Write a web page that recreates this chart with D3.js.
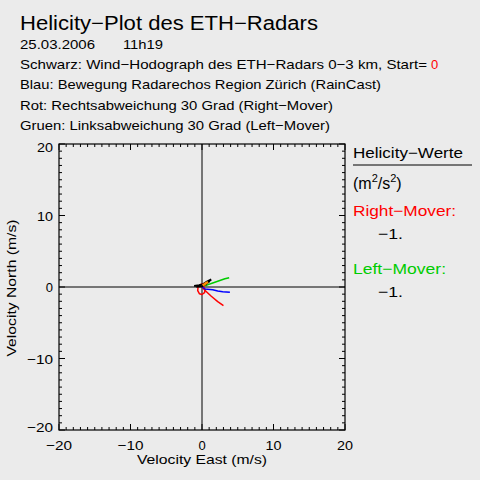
<!DOCTYPE html>
<html><head><meta charset="utf-8">
<script src="https://cdn.jsdelivr.net/npm/d3@7"></script>
<style>
html,body{margin:0;padding:0;background:#ebebeb;}
svg{display:block;font-family:"Liberation Sans","DejaVu Sans",sans-serif;}
</style></head>
<body><svg id="c" width="480" height="480"></svg>
<script>
// ---- data ----
const headerLines = [
  "Schwarz: Wind\u2212Hodograph des ETH\u2212Radars 0\u22123 km, Start=",
  "Blau: Bewegung Radarechos Region Z\u00fcrich (RainCast)",
  "Rot: Rechtsabweichung 30 Grad (Right\u2212Mover)",
  "Gruen: Linksabweichung 30 Grad (Left\u2212Mover)"
];
const xTicks = [-20, -10, 0, 10, 20];
const yTicks = [-20, -10, 0, 10, 20];
// hodograph (black), wind in m/s
const blackU = [-1.1, -0.4, 0.2, 0.7, 1.3];
const blackV = [0.15, 0.25, 0.4, 0.75, 1.05];
const black2U = [-0.8, 0.0, 0.6, 1.1];
const black2V = [0.05, 0.1, 0.45, 0.85];
// orange segment
const orangeU = [0.1, 0.5, 0.85];
const orangeV = [0.2, 0.5, 0.7];
// blue: radar echo motion
const blueU = [0.0, 0.4, 1.5, 2.2, 2.9, 3.9];
const blueV = [0.0, -0.28, -0.38, -0.56, -0.66, -0.75];
// red: right mover
const redLoopU = [0.3, -0.2, -0.55, -0.6, -0.35, 0.0, 0.35, 0.45, 0.2];
const redLoopV = [0.5, 0.35, 0.0, -0.5, -0.95, -1.05, -0.8, -0.35, 0.1];
const redU = [0.0, 0.4, 1.3, 2.2, 3.0];
const redV = [0.0, -0.45, -1.3, -2.05, -2.6];
// green: left mover
const greenU = [0.5, 0.75, 1.5, 2.5, 3.2, 3.8];
const greenV = [0.15, 0.3, 0.55, 0.9, 1.15, 1.3];
const helRight = "\u22121.";
const helLeft = "\u22121.";

// ---- drawing ----
const svg = d3.select("#c");
svg.append("rect").attr("width",480).attr("height",480).attr("fill","#ebebeb");
const x = d3.scaleLinear().domain([-20,20]).range([59,345]);
const y = d3.scaleLinear().domain([-20,20]).range([430,144]);

function txt(s, tx, ty, size, opts={}) {
  const t = svg.append("text").attr("x",tx).attr("y",ty).attr("font-size",size)
    .attr("fill",opts.fill||"#000").text(s);
  if (opts.len) t.attr("textLength",opts.len).attr("lengthAdjust","spacingAndGlyphs");
  if (opts.anchor) t.attr("text-anchor",opts.anchor);
  return t;
}
txt("Helicity\u2212Plot des ETH\u2212Radars", 20, 30, 20, {len:298});
txt("25.03.2006", 20, 49, 13, {len:75});
txt("11h19", 123, 49, 13, {len:40});
const hl = [[69,407],[89,361],[110,313],[130,310]];
headerLines.forEach((s,i)=>txt(s,20,hl[i][0],13,{len:hl[i][1]}));
txt("0", 431, 69, 13, {fill:"#ff0000"});

// ticks
const g = svg.append("g");
const minors = d3.range(-20,21,1);
minors.forEach(v=>{
  const L = (v%10===0)?6:3;
  g.append("line").attr("x1",x(v)).attr("x2",x(v)).attr("y1",y(-20)).attr("y2",y(-20)-L).attr("stroke","#000");
  g.append("line").attr("x1",x(v)).attr("x2",x(v)).attr("y1",y(20)).attr("y2",y(20)+L).attr("stroke","#000");
  g.append("line").attr("y1",y(v)).attr("y2",y(v)).attr("x1",x(-20)).attr("x2",x(-20)+L).attr("stroke","#000");
  g.append("line").attr("y1",y(v)).attr("y2",y(v)).attr("x1",x(20)).attr("x2",x(20)-L).attr("stroke","#000");
});
g.append("rect").attr("x",x(-20)).attr("y",y(20)).attr("width",x(20)-x(-20)).attr("height",y(-20)-y(20))
  .attr("fill","none").attr("stroke","#000").attr("stroke-width",1.2);
g.append("line").attr("x1",x(0)).attr("x2",x(0)).attr("y1",y(20)).attr("y2",y(-20)).attr("stroke","#000");
g.append("line").attr("x1",x(-20)).attr("x2",x(20)).attr("y1",y(0)).attr("y2",y(0)).attr("stroke","#000");

const fmt = v => (v<0?"\u2212":"")+Math.abs(v);
const tlen = v => v===0 ? null : (v<0 ? 26 : 16);
xTicks.forEach(v=>txt(fmt(v), x(v), 450, 13, {anchor:"middle", len:tlen(v)}));
yTicks.forEach(v=>txt(fmt(v), 53, y(v)+ (v===20?8:(v===-20?2:5)), 13, {anchor:"end", len:tlen(v)}));
txt("Velocity East (m/s)", 202, 464, 13, {anchor:"middle", len:130});
svg.append("text").attr("transform","translate(16,288) rotate(-90)").attr("text-anchor","middle")
  .attr("font-size",13).attr("textLength",137).attr("lengthAdjust","spacingAndGlyphs").text("Velocity North (m/s)");

// data lines
const line = d3.line().x(d=>x(d[0])).y(d=>y(d[1]));
function path(us, vs, col, w){
  svg.append("path").datum(us.map((u,i)=>[u,vs[i]])).attr("d",line)
    .attr("fill","none").attr("stroke",col).attr("stroke-width",w).attr("stroke-linejoin","round");
}
path(redLoopU, redLoopV, "#ff0000", 1.5);
path(redU, redV, "#ff0000", 1.5);
path(blueU, blueV, "#0000ff", 1.5);
path(greenU, greenV, "#00cc00", 1.5);
path(blackU, blackV, "#000", 2);
path(black2U, black2V, "#000", 2);
path(orangeU, orangeV, "#ff8c00", 2.5);

// right panel
txt("Helicity\u2212Werte", 353, 158, 15, {len:110});
svg.append("line").attr("x1",353).attr("x2",472).attr("y1",165).attr("y2",165).attr("stroke","#000");
const t2 = svg.append("text").attr("x",353).attr("y",189).attr("font-size",16);
t2.append("tspan").text("(m");
t2.append("tspan").attr("dy",-7).attr("font-size",11).text("2");
t2.append("tspan").attr("dy",7).text("/s");
t2.append("tspan").attr("dy",-7).attr("font-size",11).text("2");
t2.append("tspan").attr("dy",7).text(")");
txt("Right\u2212Mover:", 353, 216, 15, {fill:"#ff0000", len:103});
txt(helRight, 378, 239, 15, {len:25});
txt("Left\u2212Mover:", 353, 274, 15, {fill:"#00cc00", len:93});
txt(helLeft, 378, 297, 15, {len:25});
</script></body></html>
